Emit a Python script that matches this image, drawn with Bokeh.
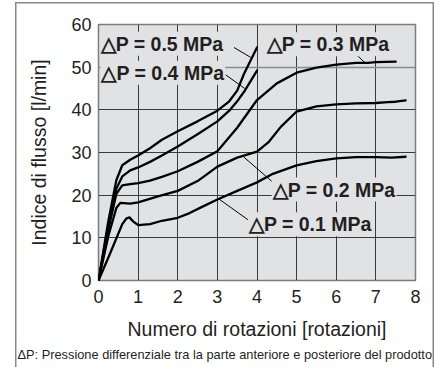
from bokeh.plotting import figure
from bokeh.models import Label, FixedTicker, Title, Grid
from bokeh.embed import file_html
from bokeh.resources import INLINE

# ---- data ----
x_05 = [0, 0.25, 0.45, 0.6, 0.8, 1.0, 1.3, 1.6, 2.0, 2.5, 3.0, 3.3, 3.5, 3.67, 3.85, 4.0]
y_05 = [0, 14, 23.5, 27, 28.3, 29.3, 31, 33, 35, 37.3, 39.8, 42, 44.5, 48.4, 51.8, 54.6]

x_04 = [0, 0.25, 0.45, 0.6, 0.8, 1.0, 1.3, 1.6, 2.0, 2.5, 3.0, 3.3, 3.5, 3.7, 4.0]
y_04 = [0, 13, 21.5, 24.4, 25.8, 26.5, 27.8, 29.3, 31.4, 34.3, 37.3, 39.8, 42, 44.6, 49.2]

x_03 = [0, 0.25, 0.45, 0.6, 0.8, 1.0, 1.3, 1.6, 2.0, 2.5, 3.0, 3.5, 4.0, 4.5, 5.0, 5.5, 6.0, 6.5, 6.8, 7.0, 7.5]
y_03 = [0, 12, 20.3, 22.3, 22.6, 22.8, 23.4, 24.3, 25.6, 27.8, 30.3, 35.8, 42.3, 46.2, 48.7, 49.9, 50.6, 51.0, 51.0, 51.2, 51.3]

x_02 = [0, 0.25, 0.45, 0.55, 0.8, 1.0, 1.5, 2.0, 2.5, 3.0, 3.5, 4.0, 4.3, 4.6, 5.0, 5.5, 6.0, 6.5, 7.0, 7.3, 7.5, 7.75]
y_02 = [0, 10.5, 17, 18.2, 18.0, 18.3, 19.7, 21, 23.3, 26.7, 28.8, 30.2, 32.5, 36, 39.6, 40.8, 41.3, 41.5, 41.6, 41.8, 41.9, 42.2]

x_01 = [0, 0.3, 0.6, 0.7, 0.78, 0.88, 1.0, 1.3, 1.6, 2.0, 2.3, 2.6, 3.0, 3.5, 4.0, 4.4, 5.0, 5.5, 6.0, 6.5, 7.0, 7.4, 7.75]
y_01 = [0, 6.5, 13.2, 14.5, 14.8, 13.8, 13.0, 13.2, 14.0, 14.7, 15.8, 17.2, 19.0, 21.0, 23.0, 25.0, 27.0, 28.0, 28.6, 28.9, 28.9, 28.8, 29.0]

series_x = [x_05, x_04, x_03, x_02, x_01]
series_y = [y_05, y_04, y_03, y_02, y_01]

label_texts = ["\u25b3P = 0.5 MPa", "\u25b3P = 0.4 MPa", "\u25b3P = 0.3 MPa",
               "\u25b3P = 0.2 MPa", "\u25b3P = 0.1 MPa"]
label_x = [0.03, 0.05, 4.22, 4.37, 3.77]
label_y = [55.5, 48.7, 55.4, 21.3, 13.2]

# pointer lines: label end -> curve
ptr_x0 = [3.42, 3.21, 6.49, 4.43, 3.80]
ptr_y0 = [54.6, 48.2, 53.1, 22.8, 14.05]
ptr_x1 = [3.84, 3.69, 6.74, 3.67, 3.04]
ptr_y1 = [52.3, 45.0, 50.9, 28.9, 19.1]

x_ticks = [0, 1, 2, 3, 4, 5, 6, 7, 8]
y_ticks = [0, 10, 20, 30, 40, 50, 60]

x_title = "Numero di rotazioni [rotazioni]"
y_title = "Indice di flusso [l/min]"
footnote = "\u0394P: Pressione differenziale tra la parte anteriore e posteriore del prodotto"

# ---- figure ----
BG = "#e1e2e3"
TXT = "#231f20"
p = figure(width=444, height=367, output_backend="svg", toolbar_location=None,
           x_range=(0, 8), y_range=(0, 60))
p.min_border_left = 98
p.min_border_right = 29
p.min_border_top = 24
p.min_border_bottom = 87
p.background_fill_color = BG
p.border_fill_color = None
p.outline_line_color = "#7c7c7c"
p.outline_line_width = 1.5

# outer frame of the whole figure (drawn behind the transparent canvas border)
p.styles = {"box-shadow": ("inset 15px 0 0 0 white, inset 0 2px 0 0 white, "
                           "inset -10px 0 0 0 white, "
                           "inset 16.5px 0 0 0 #8a8a8a, inset 0 3.5px 0 0 #8a8a8a, "
                           "inset -11.5px 0 0 0 #8a8a8a")}

for ax in (p.xaxis[0], p.yaxis[0]):
    ax.axis_line_color = None
    ax.major_tick_line_color = None
    ax.minor_tick_line_color = None
    ax.major_tick_out = 0
    ax.major_tick_in = 0
    ax.major_label_text_font = "Liberation Sans"
    ax.major_label_text_font_size = "18px"
    ax.major_label_text_color = TXT
    ax.axis_label_text_font = "Liberation Sans"
    ax.axis_label_text_font_size = "19.5px"
    ax.axis_label_text_font_style = "normal"
    ax.axis_label_text_color = TXT

p.xaxis.ticker = FixedTicker(ticks=x_ticks)
p.yaxis.ticker = FixedTicker(ticks=y_ticks)
p.xaxis.axis_label = x_title
p.yaxis.axis_label = y_title
p.xaxis.major_label_standoff = 9
p.xaxis.axis_label_standoff = 12
p.yaxis.major_label_standoff = 7
p.yaxis.axis_label_standoff = 18

p.xgrid.ticker = FixedTicker(ticks=x_ticks[1:-1])
p.ygrid.ticker = FixedTicker(ticks=y_ticks[1:-2])
for g in (p.xgrid[0], p.ygrid[0]):
    g.grid_line_color = "#3a3a3a"
    g.grid_line_width = 1
p.add_layout(Grid(dimension=1, ticker=FixedTicker(ticks=[y_ticks[-2]]),
                  grid_line_color="#8c8c8c", grid_line_width=1.5))

for xs, ys in zip(series_x, series_y):
    p.line(xs, ys, line_color="black", line_width=2.3, line_join="round", line_cap="round")

p.segment(x0=ptr_x0, y0=ptr_y0, x1=ptr_x1, y1=ptr_y1, line_color="black", line_width=1)

# labels (with background to mask the grid)
for t, lx, ly in zip(label_texts, label_x, label_y):
    p.add_layout(Label(x=lx, y=ly, text=t, text_font="Liberation Sans",
                       text_font_size="19.5px", text_font_style="bold",
                       text_color=TXT, text_align="left", text_baseline="middle",
                       background_fill_color=BG, padding=1))

# footnote below the x axis
p.add_layout(Title(text=footnote, align="left", offset=-81, standoff=5,
                   text_font="Liberation Sans",
                   text_font_size="12.8px", text_font_style="normal",
                   text_color=TXT), "below")

open("out.html", "w").write(file_html(p, INLINE))
